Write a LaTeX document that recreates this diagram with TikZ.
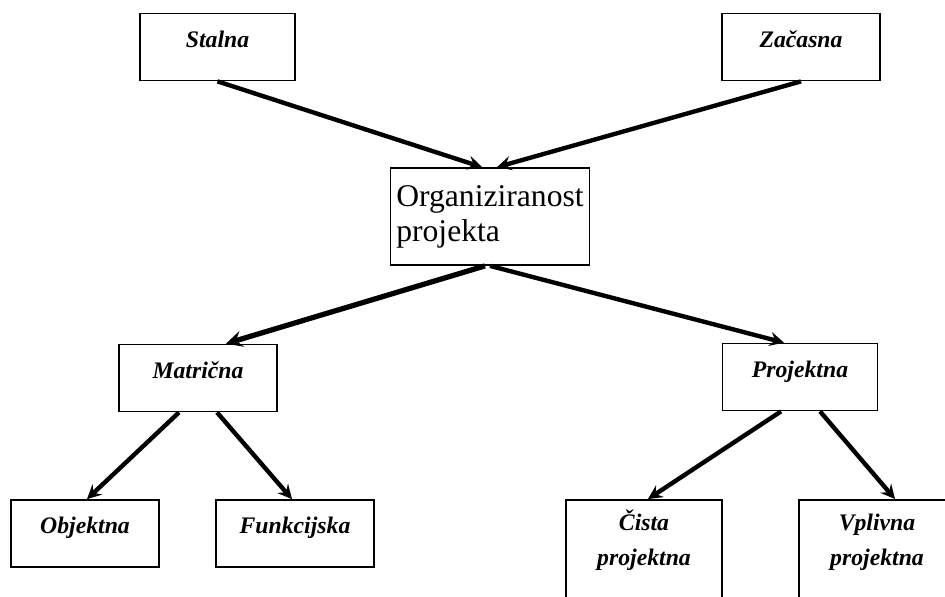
\documentclass[tikz,border=0pt]{standalone}
\usepackage{fontspec}
\setmainfont{Liberation Serif}
\usetikzlibrary{arrows, calc}
\tikzstyle{box} = [rectangle, draw=black, line width=1pt, minimum width=3.1cm, minimum height=1.34cm, text height=9pt, text depth=9pt, font=\fontsize{13.5}{20}\selectfont\bfseries\itshape]
\tikzstyle{tallbox} = [rectangle, draw=black, line width=1pt, minimum width=3.12cm, anchor=north, align=center, inner ysep=3.6pt, text height=34pt, text depth=70pt, font=\fontsize{13.5}{20}\selectfont\bfseries\itshape]
\tikzstyle{mainbox} = [rectangle, draw=black, line width=1pt, minimum width=3.84cm, minimum height=1.94cm, align=left, font=\fontsize{18}{20}\selectfont]
\tikzstyle{arrow} = [line width=2.5pt,->,>=stealth]

\begin{document}
\begin{tikzpicture}[x=0.02cm, y=-0.02cm]
        \useasboundingbox (0,0) rectangle (945,596);
        \clip (0,0) rectangle (945,596);
        \node (org) [mainbox] at (490,216.5) {Organiziranost\\projekta};
        \node (stalna) [box] at (217.5,47) {Stalna};
        \node (zacasna) [box, minimum width=3.16cm] at (801,47) {Začasna};
        \node (matricna) [box, minimum width=3.16cm] at (198,378) {Matrična};
        \node (projektna) [box] at (800,377) {Projektna};
        \node (objektna) [box, minimum width=2.96cm] at (85,533.5) {Objektna};
        \node (funkcijska) [box, minimum width=3.16cm] at (295,533.5) {Funkcijska};
        \node (cista) [tallbox] at (644,499) {Čista\\projektna};
        \node (vplivna) [tallbox] at (877,499) {Vplivna\\projektna};

        \draw [arrow] (stalna.south) -- ($(org.north)+(-8,0)$);
        \draw [arrow] (zacasna.south) -- ($(org.north)+(7,0)$);
        \draw [arrow, line width=3pt] ($(org.south)+(-5,0)$) -- ($(matricna.north)+(28,0)$);
        \draw [arrow] (org.south) -- ($(projektna.north)+(-16,0)$);
        \draw [arrow] ($(matricna.south)+(-19,0)$) -- ($(objektna.north)+(2,0)$);
        \draw [arrow] ($(matricna.south)+(19,0)$) -- ($(funkcijska.north)+(-3,0)$);
        \draw [arrow] ($(projektna.south)+(-19,0)$) -- ($(cista.north)+(4,0)$);
        \draw [arrow] ($(projektna.south)+(20,0)$) -- ($(vplivna.north)+(18,0)$);
    \end{tikzpicture}
\end{document}
